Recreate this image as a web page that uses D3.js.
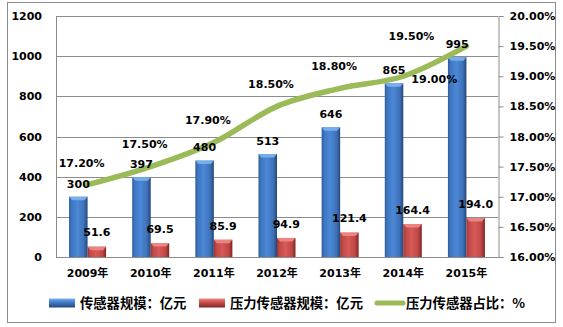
<!DOCTYPE html>
<html><head><meta charset="utf-8">
<script src="https://cdn.jsdelivr.net/npm/d3@7"></script>
<style>body{margin:0;background:#fff}svg{display:block}</style>
</head><body>
<script>
const years = ["2009年","2010年","2011年","2012年","2013年","2014年","2015年"];
const sensorSize = [300,397,480,513,646,865,995];
const pressureSize = [51.6,69.5,85.9,94.9,121.4,164.4,194.0];
const pressureShare = [17.20,17.50,17.90,18.50,18.80,19.00,19.50];
const leftTicks = [0,200,400,600,800,1000,1200];
const rightTicks = [16,16.5,17,17.5,18,18.5,19,19.5,20];
const legendNames = ["传感器规模：亿元","压力传感器规模：亿元","压力传感器占比：%"];

const W=563,H=327;
const svg=d3.select("body").append("svg").attr("width",W).attr("height",H);
const numFont="'DejaVu Sans', Verdana, sans-serif";
const cjkFont="'DejaVu Sans','Noto Sans CJK SC', sans-serif";

const defs=svg.append("defs");
function grad(id,stops){
  const g=defs.append("linearGradient").attr("id",id).attr("x1","0").attr("x2","1").attr("y1","0").attr("y2","0");
  stops.forEach(s=>g.append("stop").attr("offset",s[0]).attr("stop-color",s[1]));
}
grad("gBlue",[["0","#2B5A98"],["0.12","#3D74BE"],["0.45","#4B88D6"],["0.8","#3E72B8"],["1","#23477A"]]);
grad("gRed",[["0","#983230"],["0.12","#C04846"],["0.45","#D65A57"],["0.8","#BF4744"],["1","#7E2624"]]);

// outer border
svg.append("rect").attr("x",7.5).attr("y",2.5).attr("width",548).attr("height",320)
  .attr("fill","#fff").attr("stroke","#8C8C8C").attr("stroke-width",1);

const L=56,R=498,T=16,B=257;
const x=d3.scaleBand().domain(years).range([L,R]).paddingInner(0).paddingOuter(0);
const yL=d3.scaleLinear().domain([0,1200]).range([B,T]);
const yR=d3.scaleLinear().domain([16,20]).range([B,T]);
const bw=x.bandwidth()*0.293;

// gridlines
svg.append("g").selectAll("line").data(leftTicks).join("line")
  .attr("x1",L).attr("x2",R).attr("y1",d=>Math.round(yL(d))+0.5).attr("y2",d=>Math.round(yL(d))+0.5)
  .attr("stroke","#8C8C8C").attr("stroke-width",1);
// left axis line
svg.append("line").attr("x1",L+0.5).attr("x2",L+0.5).attr("y1",T).attr("y2",B).attr("stroke","#8C8C8C");
// right axis
const ra=svg.append("g").attr("transform",`translate(${R+0.5},0)`)
  .call(d3.axisRight(yR).tickValues(rightTicks).tickSize(5).tickPadding(6).tickFormat(d=>d.toFixed(2)+"%"));
ra.select(".domain").attr("stroke","#8C8C8C");
ra.selectAll(".tick line").attr("stroke","#8C8C8C");
ra.selectAll("text").attr("font-family",numFont).attr("font-weight","bold").attr("font-size","11px").attr("fill","#000");
// left labels
const la=svg.append("g").attr("transform",`translate(${L},0)`)
  .call(d3.axisLeft(yL).tickValues(leftTicks).tickSize(0).tickPadding(14).tickFormat(d=>String(d)));
la.select(".domain").remove();
la.selectAll("text").attr("font-family",numFont).attr("font-weight","bold").attr("font-size","11px").attr("fill","#000");
// bottom axis labels
const ba=svg.append("g").attr("transform",`translate(0,${B})`)
  .call(d3.axisBottom(x).tickSize(0).tickPadding(12));
ba.select(".domain").attr("stroke","#8C8C8C");
ba.selectAll("text").attr("font-family",cjkFont).attr("font-weight","bold").attr("font-size","11px").attr("fill","#000");

function drawBars(vals,off,gid,cap){
  const g=svg.append("g");
  const xs=(d,i)=>x(years[i])+x.bandwidth()/2+off*bw;
  g.selectAll("rect.b").data(vals).join("rect").attr("class","b")
    .attr("x",(d,i)=>xs(d,i)).attr("y",d=>yL(d)).attr("width",bw).attr("height",d=>B-yL(d))
    .attr("fill",`url(#${gid})`);
  g.selectAll("path.c").data(vals).join("path").attr("class","c")
    .attr("d",(d,i)=>{const x0=xs(d,i),y0=yL(d);return `M${x0},${y0}L${x0+bw},${y0}L${x0+bw-3},${y0+3.5}L${x0+3},${y0+3.5}Z`;})
    .attr("fill",cap).attr("opacity",0.9);
  return xs;
}
const xb=drawBars(sensorSize,-1,"gBlue","#7DB3EE");
const xr=drawBars(pressureSize,0,"gRed","#EE8A88");

// line
const cx=i=>x(years[i])+x.bandwidth()/2;
const line=d3.line().x((d,i)=>cx(i)).y(d=>yR(d)).curve(d3.curveMonotoneX);
svg.append("path").attr("d",line(pressureShare)).attr("fill","none")
  .attr("stroke","#9BBB59").attr("stroke-width",5.5).attr("stroke-linecap","round").attr("stroke-linejoin","round");

// value labels
const lab=(data,fx,fy,fmt)=>svg.append("g").selectAll("text").data(data).join("text")
  .attr("x",fx).attr("y",fy).attr("text-anchor","middle").attr("dy","0.35em")
  .attr("font-family",numFont).attr("font-weight","bold").attr("font-size","11px").attr("fill","#000").text(fmt);
lab(sensorSize,(d,i)=>xb(d,i)+bw/2,d=>yL(d)-13,d=>d);
lab(pressureSize,(d,i)=>xr(d,i)+bw/2,d=>yL(d)-14,d=>d.toFixed(1));
lab(pressureShare,
  (d,i)=>cx(i)+(i===5?31:(i===6?-55:-6)),
  (d,i)=>yR(d)+(i===5?3:(i===6?-10:-22)),
  d=>d.toFixed(2)+"%");

// legend
const lg=svg.append("g");
const ly=303;
const gv=(id,c)=>{const g=defs.append("linearGradient").attr("id",id).attr("x1",0).attr("x2",0).attr("y1",0).attr("y2",1);
  c.forEach(s=>g.append("stop").attr("offset",s[0]).attr("stop-color",s[1]));};
gv("gBluev",[["0","#7DB3EE"],["0.3","#4B88D6"],["1","#23477A"]]);
gv("gRedv",[["0","#EE8A88"],["0.3","#D65A57"],["1","#7E2624"]]);
function swatch(x0,gid){
  lg.append("rect").attr("x",x0).attr("y",ly-4.5).attr("width",26).attr("height",9).attr("fill",`url(#${gid}v)`);
}
swatch(49,"gBlue");
swatch(199,"gRed");
lg.append("line").attr("x1",377).attr("x2",403).attr("y1",ly).attr("y2",ly)
  .attr("stroke","#9BBB59").attr("stroke-width",5).attr("stroke-linecap","round");
const lx=[80,230,406];
lg.selectAll("text").data(legendNames).join("text")
  .attr("x",(d,i)=>lx[i]).attr("y",ly).attr("dy","0.36em")
  .attr("font-family","'Noto Sans CJK SC', sans-serif").attr("font-weight","bold").attr("font-size","13.3px").attr("fill","#000")
  .text(d=>d);
</script>
</body></html>
